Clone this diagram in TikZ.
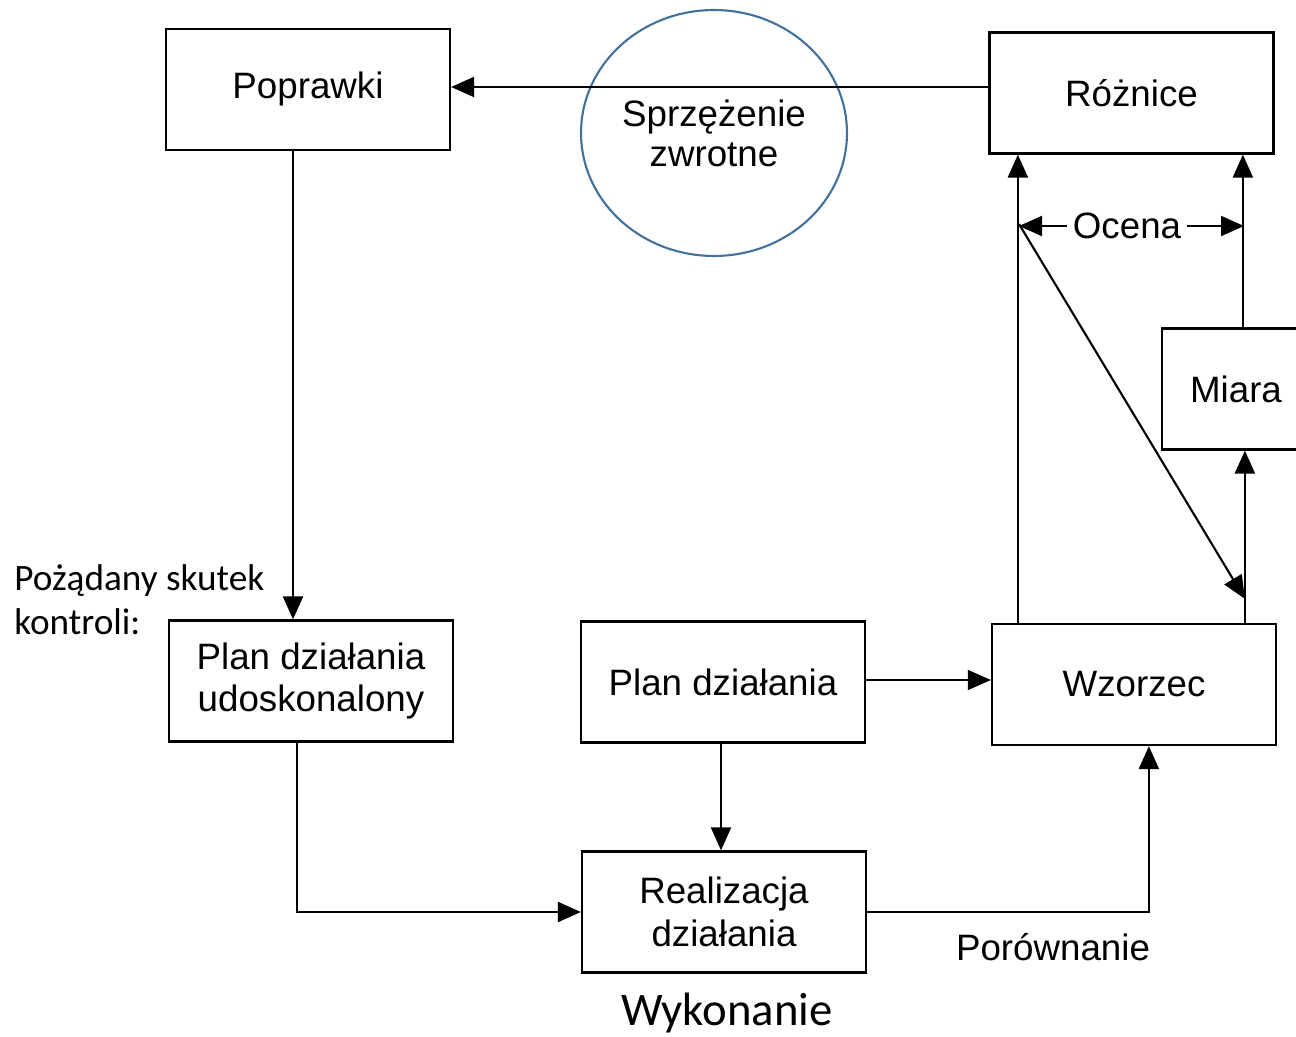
\documentclass[tikz,border=0pt]{standalone}
\usepackage{fontspec}
\setmainfont{Liberation Sans}
\newfontfamily\carl{Carlito}
\usetikzlibrary{arrows.meta,calc,shapes.geometric}
\definecolor{circblue}{RGB}{65,113,156}
\begin{document}
\begin{tikzpicture}[x=0.02cm,y=-0.02cm,
  boxfont/.style={font=\fontsize{20.9}{24.4}\selectfont},
  box/.style={draw, line width=1.3pt, minimum width=5.68cm, minimum height=2.42cm,
              align=center, inner sep=0pt, boxfont},
  arr/.style={line width=1.2pt, -{Triangle[length=0.46cm,width=0.4cm]}},
  arrthin/.style={line width=0.6pt, -{Triangle[length=0.46cm,width=0.4cm]}},
  lab/.style={boxfont},
  note/.style={font=\carl\fontsize{21.2}{25}\selectfont, align=left, inner sep=0pt}]
\clip (0,0) rectangle (1296,1037);
\fill[white] (0,0) rectangle (1296,1037);

% boxes
\node[box] (popr) at (308,89.5) {Poprawki};
\node[box] (rozn) at (1131.5,93) {Różnice};
\node[box, minimum width=2.96cm] (miara) at (1236,389) {Miara};
\node[box] (udo) at (311,681) {Plan działania\\udoskonalony};
\node[box] (plan) at (723,682) {Plan działania};
\node[box] (wz) at (1134,684.5) {Wzorzec};
\node[box] (real) at (724,912) {Realizacja\\działania};

% circle
\node[draw=circblue, ellipse, line width=1.2pt, minimum width=5.32cm, minimum height=4.92cm,
      inner sep=0pt, align=center, font=\fontsize{20.9}{22.7}\selectfont] (sprz) at (714,133) {Sprzężenie\\zwrotne};

% labels
\node[note, anchor=west] (pozad) at (14,600) {Pożądany skutek\\kontroli:};
\node[font=\carl\fontsize{26.6}{30}\selectfont, inner sep=0pt] (wyk) at (727,1013) {Wykonanie};
\node[lab] (por) at (1053,947) {Porównanie};
\node[lab] (ocena) at (1127,226) {Ocena};

% connectors
\draw[arr] ($(rozn.west)+(0,-6)$) coordinate (fb) -- (fb -| popr.east);
\draw[arr] ($(popr.south)+(-15,0)$) coordinate (pd) -- (pd |- udo.north);
\draw[arr] ($(udo.south)+(-14,0)$) |- (real.west);
\draw[arr] ($(plan.south)+(-2,0)$) coordinate (pr) -- (pr |- real.north);
\draw[arrthin] ($(plan.east)+(0,-2)$) coordinate (pe) -- (pe -| wz.west);
\draw[arr] (real.east) -| ($(wz.south west)+(158,0)$);

\draw[arr] ($(wz.north west)+(27,0)$) coordinate (wl) -- (wl |- rozn.south);
\draw[arr] ($(wz.north west)+(254,0)$) coordinate (wr) -- (wr |- miara.south);
\draw[arr] ($(miara.north west)+(82,0)$) coordinate (mt) -- (mt |- rozn.south);

\coordinate (oL) at (1019,224);
\coordinate (oR) at (1244,226);
\draw[arr] (ocena.west) -- (ocena.west -| oL);
\draw[arr] (ocena.east) -- (ocena.east -| oR);
\draw[arr] (oL) -- ($(wr)+(0,-24)$);
\end{tikzpicture}
\end{document}
